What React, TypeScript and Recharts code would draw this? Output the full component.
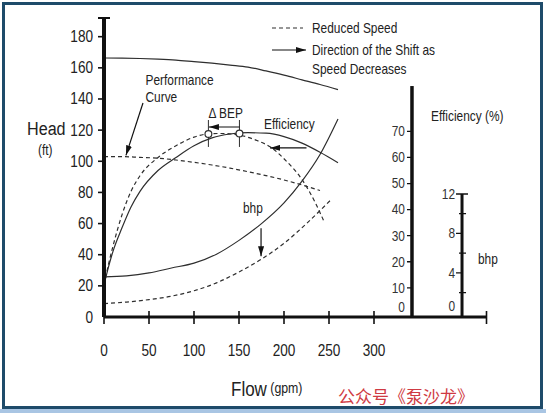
import React from 'react';
import { ComposedChart, Line, Scatter, XAxis, YAxis, ReferenceLine } from 'recharts';

const FONT = '"Liberation Sans", Arial, sans-serif';
const CJK = '"Noto Sans CJK SC", "Noto Sans CJK TC", sans-serif';
const NARROW = 0.85; // horizontal squeeze giving a condensed face
const INK = '#2e2e2e';
const AXIS = '#111';
const DASH = '4 3';

// Flow axis (gpm)
const flowTicks = [0, 50, 100, 150, 200, 250, 300];
const FLOW_MAX = 425;

// Head axis (ft)
const headTicks = [0, 20, 40, 60, 80, 100, 120, 140, 160, 180];
const HEAD_MAX = 192;

// Efficiency axis (%) and bhp axis
const effTicks = [0, 10, 20, 30, 40, 50, 60, 70];
const bhpTicks = [0, 2, 4, 6, 8, 10, 12];
const bhpLabelled = [0, 4, 8, 12];
const EFF_DOMAIN: [number, number] = [-1.2, 113.5];
const BHP_DOMAIN: [number, number] = [-0.46, 29.82];
const EFF_AXIS_AT = 342.2; // flow position of the efficiency scale
const BHP_AXIS_AT = 397.8; // flow position of the bhp scale
const EFF_AXIS_TOP = 87.4;

// Head curve, full speed
const flowHeadFull = [0, 20, 40, 60, 80, 100, 120, 140, 160, 180, 200, 220, 240, 260];
const headFull = [166.3, 166.2, 166, 165.6, 165, 164, 163, 161.8, 160.5, 158, 155.3, 152.3, 149.3, 146];

// Head curve, reduced speed
const flowHeadReduced = [0, 20, 40, 60, 80, 100, 120, 140, 160, 180, 200, 220, 240];
const headReduced = [103, 103, 102.5, 102, 100.8, 99.3, 97.6, 95.6, 93.3, 90.8, 88, 84.8, 81.2];

// Efficiency, full speed
const flowEffFull = [0, 5, 10, 20, 30, 40, 60, 80, 100, 120, 140, 160, 180, 200, 220, 240, 260];
const effFull = [11, 18, 24, 33, 41, 47, 55, 60, 64.5, 67.5, 69, 69.5, 69.3, 68, 65.5, 62, 58];

// Efficiency, reduced speed
const flowEffReduced = [0, 5, 10, 20, 30, 40, 60, 80, 100, 115, 130, 150, 170, 185, 200, 220, 235, 245];
const effReduced = [11, 19, 26, 38, 47, 53, 60, 64.5, 67.8, 69, 69.2, 68.6, 66.5, 64, 59.5, 51.5, 42.5, 35];

// Brake horsepower, full speed
const flowBhpFull = [0, 25, 50, 75, 100, 125, 150, 175, 200, 220, 240, 260];
const bhpFull = [3.6, 3.7, 4.0, 4.5, 5.0, 5.9, 7.3, 9.0, 11.1, 13.3, 16.0, 19.6];

// Brake horsepower, reduced speed
const flowBhpReduced = [0, 25, 50, 75, 100, 125, 150, 175, 200, 225, 252];
const bhpReduced = [0.9, 1.05, 1.3, 1.65, 2.2, 3.0, 4.1, 5.4, 7.0, 9.0, 11.4];

// Best efficiency points (reduced, full)
const bepFlow = [116, 150.5];
const bepEff = [69.0, 69.2];
const bepSpanHead = [109.2, 126.5];

// Annotation arrows, in flow / head units
const arrowPerf = [{ q: 43.3, v: 137.4 }, { q: 24.4, v: 103.8 }];
const arrowBep = [{ q: 150.5, v: 122 }, { q: 116.6, v: 122 }];
const arrowEff = [{ q: 225, v: 108.6 }, { q: 184.5, v: 108.6 }];
const arrowBhp = [{ q: 174.5, v: 57 }, { q: 174.5, v: 39 }];

const pts = (xs: number[], ys: number[]) => xs.map((q, i) => ({ q, v: ys[i] }));

// Condensed text placed at (x, y), vertically centred
const T = ({ x, y, size = 14, anchor = 'start', fill = '#222', children }: any) => (
  <text
    transform={`translate(${x},${y}) scale(${NARROW},1)`}
    x={0}
    y={0}
    textAnchor={anchor}
    dominantBaseline="central"
    fontSize={size}
    fill={fill}
    fontFamily={FONT}
  >
    {children}
  </text>
);

const XTick = (props: any) => {
  const { x, y, payload } = props;
  const v = payload.value;
  return (
    <g>
      <line x1={x} x2={x} y1={y - 6} y2={y + 7} stroke={AXIS} strokeWidth={1.6} />
      {v <= 300 && <T x={x} y={y + 34} size={16} anchor="middle">{v}</T>}
    </g>
  );
};

const YTick = (props: any) => {
  const { x, y, payload } = props;
  const v = payload.value;
  if (v === HEAD_MAX) {
    return <line x1={x - 6} x2={x + 6} y1={y} y2={y} stroke={AXIS} strokeWidth={2} />;
  }
  return (
    <g>
      {v > 0 && <line x1={x - 6} x2={x} y1={y} y2={y} stroke={AXIS} strokeWidth={1.6} />}
      <T x={x - 11} y={v === 0 ? y + 1 : y} size={16} anchor="end">{v}</T>
    </g>
  );
};

const EffTick = (props: any) => {
  const { cx, cy, payload } = props;
  const v = payload.v;
  return (
    <g>
      {v > 0 && <line x1={cx - 5} x2={cx} y1={cy} y2={cy} stroke={AXIS} strokeWidth={1.3} />}
      <T x={cx - 7} y={v === 0 ? cy - 7 : cy} size={14} anchor="end" fill="#333">{v}</T>
    </g>
  );
};

const BhpTick = (props: any) => {
  const { cx, cy, payload } = props;
  const v = payload.v;
  const labelled = bhpLabelled.includes(v);
  let tick = null;
  if (v === 12) tick = <line x1={cx - 6} x2={cx + 6} y1={cy} y2={cy} stroke={AXIS} strokeWidth={1.6} />;
  else if (v > 0 && labelled) tick = <line x1={cx - 6} x2={cx} y1={cy} y2={cy} stroke={AXIS} strokeWidth={1.3} />;
  else if (v > 0) tick = <line x1={cx - 3} x2={cx + 4} y1={cy} y2={cy} stroke={AXIS} strokeWidth={1.3} />;
  return (
    <g>
      {tick}
      {labelled && <T x={cx - 7} y={v === 0 ? cy - 6 : cy} size={14} anchor="end" fill="#333">{v}</T>}
    </g>
  );
};

const BepDot = (props: any) => {
  const { cx, cy } = props;
  return <circle cx={cx} cy={cy} r={3.4} fill="#fff" stroke={INK} strokeWidth={1.2} />;
};

export default function App() {
  const curve = { type: 'monotone' as const, dataKey: 'v', dot: false, isAnimationActive: false, stroke: INK, strokeWidth: 1.2 };
  const arrow = { type: 'linear' as const, dataKey: 'v', dot: false, isAnimationActive: false, stroke: '#111', strokeWidth: 1.2, markerEnd: 'url(#ah)' };
  return (
    <div style={{ position: 'absolute', left: 0, top: 0, width: 546, height: 413, background: '#fff', overflow: 'hidden' }}>
      <svg width={0} height={0} style={{ position: 'absolute' }}>
        <defs>
          <marker id="ah" viewBox="0 0 10 6" refX={10} refY={3} markerWidth={10} markerHeight={6} markerUnits="userSpaceOnUse" orient="auto">
            <path d="M0,0 L10,3 L0,6 z" fill="#111" />
          </marker>
        </defs>
      </svg>
      <ComposedChart width={546} height={413} margin={{ top: 18, right: 59.5, bottom: 56, left: 54 }}>
        <XAxis
          type="number"
          dataKey="q"
          domain={[0, FLOW_MAX]}
          ticks={[...flowTicks, FLOW_MAX]}
          interval={0}
          allowDataOverflow
          height={40}
          tickSize={0}
          tickMargin={0}
          tickLine={false}
          axisLine={{ stroke: AXIS, strokeWidth: 3 }}
          tick={XTick}
        />
        <YAxis
          type="number"
          domain={[0, HEAD_MAX]}
          ticks={[...headTicks, HEAD_MAX]}
          interval={0}
          allowDataOverflow
          width={50}
          tickSize={0}
          tickMargin={0}
          tickLine={false}
          axisLine={{ stroke: AXIS, strokeWidth: 4 }}
          tick={YTick}
        />
        <YAxis yAxisId="eff" type="number" domain={EFF_DOMAIN} allowDataOverflow hide />
        <YAxis yAxisId="bhp" type="number" domain={BHP_DOMAIN} allowDataOverflow hide />

        <ReferenceLine yAxisId="eff" segment={[{ x: EFF_AXIS_AT, y: EFF_DOMAIN[0] }, { x: EFF_AXIS_AT, y: EFF_AXIS_TOP }]} stroke={AXIS} strokeWidth={3.5} />
        <ReferenceLine yAxisId="bhp" segment={[{ x: BHP_AXIS_AT, y: BHP_DOMAIN[0] }, { x: BHP_AXIS_AT, y: 12 }]} stroke={AXIS} strokeWidth={3} />
        <Scatter yAxisId="eff" data={effTicks.map((v) => ({ q: EFF_AXIS_AT, v }))} dataKey="v" shape={EffTick} isAnimationActive={false} />
        <Scatter yAxisId="bhp" data={bhpTicks.map((v) => ({ q: BHP_AXIS_AT, v }))} dataKey="v" shape={BhpTick} isAnimationActive={false} />

        <Line {...curve} data={pts(flowHeadFull, headFull)} />
        <Line {...curve} data={pts(flowHeadReduced, headReduced)} strokeDasharray={DASH} />
        <Line {...curve} yAxisId="eff" data={pts(flowEffFull, effFull)} />
        <Line {...curve} yAxisId="eff" data={pts(flowEffReduced, effReduced)} strokeDasharray={DASH} />
        <Line {...curve} yAxisId="bhp" data={pts(flowBhpFull, bhpFull)} />
        <Line {...curve} yAxisId="bhp" data={pts(flowBhpReduced, bhpReduced)} strokeDasharray={DASH} />

        {bepFlow.map((q) => (
          <ReferenceLine key={q} segment={[{ x: q, y: bepSpanHead[0] }, { x: q, y: bepSpanHead[1] }]} stroke={INK} strokeWidth={1} />
        ))}
        <Scatter yAxisId="eff" data={pts(bepFlow, bepEff)} dataKey="v" shape={BepDot} isAnimationActive={false} />

        <Line {...arrow} data={arrowPerf} />
        <Line {...arrow} data={arrowBep} />
        <Line {...arrow} data={arrowEff} />
        <Line {...arrow} data={arrowBhp} />
      </ComposedChart>

      <svg width={546} height={413} style={{ position: 'absolute', left: 0, top: 0, pointerEvents: 'none' }}>
        {/* legend */}
        <line x1={272} y1={28} x2={303} y2={28} stroke={INK} strokeWidth={1.2} strokeDasharray={DASH} />
        <T x={312} y={28}>Reduced Speed</T>
        <line x1={272} y1={50} x2={306} y2={50} stroke="#111" strokeWidth={1.2} markerEnd="url(#ah)" />
        <T x={312} y={50.5}>Direction of the Shift as</T>
        <T x={312} y={69.5}>Speed Decreases</T>

        {/* axis titles */}
        <T x={27} y={129} size={19}>Head</T>
        <T x={38} y={150} size={14}>(ft)</T>
        <text transform={`translate(231,388) scale(${NARROW},1)`} x={0} y={0} dominantBaseline="central" fill="#222" fontFamily={FONT}>
          <tspan fontSize={20}>Flow</tspan>
          <tspan fontSize={14.5}> (gpm)</tspan>
        </text>
        <T x={431} y={116.5} size={14}>Efficiency (%)</T>
        <T x={478} y={259} size={14}>bhp</T>

        {/* curve annotations */}
        <T x={145.5} y={80}>Performance</T>
        <T x={145.5} y={97}>Curve</T>
        <T x={208.5} y={113}>Δ BEP</T>
        <T x={264} y={124}>Efficiency</T>
        <T x={243} y={208.5}>bhp</T>

        <text x={338} y={403} fontSize={17} fill="#cf3a43" fontFamily={CJK}>公众号《泵沙龙》</text>
      </svg>

      {/* frame */}
      <div style={{ position: 'absolute', left: 2, top: 2, width: 541, height: 407, boxSizing: 'border-box', border: '3px solid #1e4b6a' }} />
      <div style={{ position: 'absolute', left: 0, top: 409, width: 546, height: 4, background: '#a9c5e3' }} />
    </div>
  );
}
